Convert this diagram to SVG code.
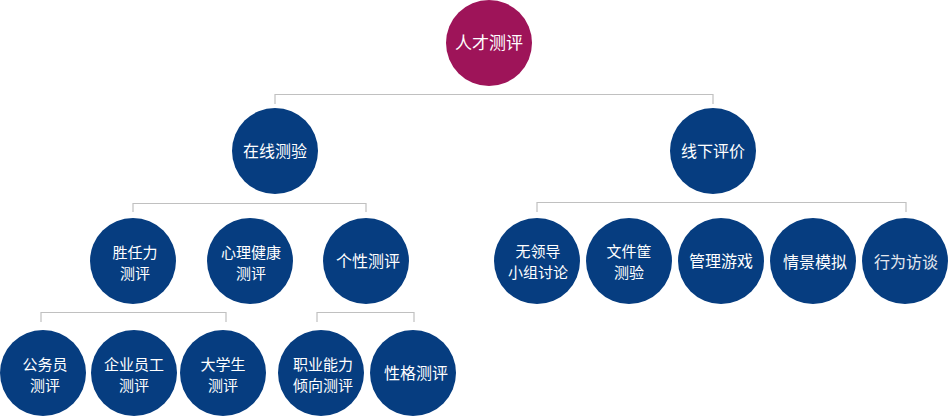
<svg xmlns="http://www.w3.org/2000/svg" width="948" height="417" viewBox="0 0 948 417">
<style>
.n{fill:#063d80}
.r{fill:#9e1459}
.t{fill:#ffffff;font-family:"Noto Sans CJK SC","Noto Sans",sans-serif;font-size:16px;text-anchor:middle}
.s{font-size:15px}
.c{fill:none;stroke:#c0c0c0;stroke-width:1.2}
</style>
<rect width="948" height="417" fill="#ffffff"/>
<g id="connectors">
<path class="c" d="M275,104 V94.5 H713 V104"/>
<path class="c" d="M133,212 V203.5 H366 V212"/>
<path class="c" d="M537,212 V202.5 H906 V212"/>
<path class="c" d="M41,322 V312.5 H226 V322"/>
<path class="c" d="M317,322 V312.5 H414 V322"/>
</g>
<g id="root"><circle class="r" cx="489" cy="43" r="43"/><text class="t" x="489" y="49" style="font-size:17px">人才测评</text></g>
<g id="online"><circle class="n" cx="275" cy="151" r="43"/><text class="t" x="275" y="157">在线测验</text></g>
<g id="offline"><circle class="n" cx="713" cy="151" r="43"/><text class="t" x="713" y="157">线下评价</text></g>
<g id="competency"><circle class="n" cx="133" cy="261" r="43"/><text class="t s" x="135" y="258">胜任力</text><text class="t s" x="135" y="279">测评</text></g>
<g id="mental"><circle class="n" cx="250" cy="261" r="43"/><text class="t s" x="251" y="258">心理健康</text><text class="t s" x="251" y="279">测评</text></g>
<g id="personality"><circle class="n" cx="366" cy="261" r="43"/><text class="t" x="368" y="267">个性测评</text></g>
<g id="civil"><circle class="n" cx="43" cy="373" r="43"/><text class="t s" x="45" y="370">公务员</text><text class="t s" x="45" y="391">测评</text></g>
<g id="employee"><circle class="n" cx="134" cy="373" r="43"/><text class="t s" x="134" y="370">企业员工</text><text class="t s" x="134" y="391">测评</text></g>
<g id="student"><circle class="n" cx="223" cy="373" r="43"/><text class="t s" x="223" y="370">大学生</text><text class="t s" x="223" y="391">测评</text></g>
<g id="aptitude"><circle class="n" cx="321" cy="373" r="43"/><text class="t s" x="323" y="370">职业能力</text><text class="t s" x="323" y="391">倾向测评</text></g>
<g id="character"><circle class="n" cx="413" cy="373" r="43"/><text class="t" x="416" y="379">性格测评</text></g>
<g id="lgd"><circle class="n" cx="537" cy="261" r="43"/><text class="t s" x="538" y="257">无领导</text><text class="t s" x="538" y="278">小组讨论</text></g>
<g id="inbasket"><circle class="n" cx="629" cy="261" r="43"/><text class="t s" x="629" y="257">文件筐</text><text class="t s" x="629" y="278">测验</text></g>
<g id="game"><circle class="n" cx="721" cy="261" r="43"/><text class="t" x="721" y="267">管理游戏</text></g>
<g id="simulation"><circle class="n" cx="813" cy="261" r="43"/><text class="t" x="815" y="268">情景模拟</text></g>
<g id="interview"><circle class="n" cx="905" cy="261" r="43"/><text class="t" x="906" y="268" style="fill:#e4e8ee">行为访谈</text></g>
</svg>
